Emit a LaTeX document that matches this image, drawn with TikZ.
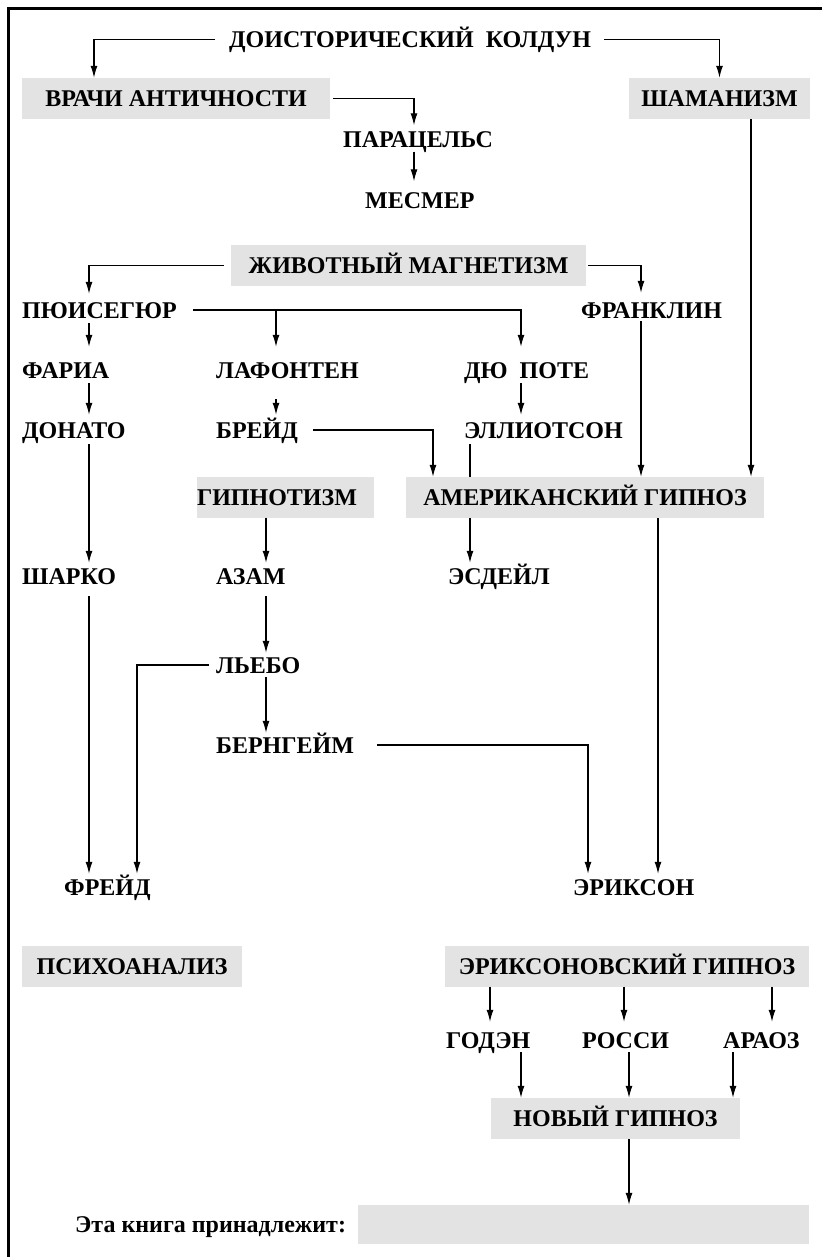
\documentclass[tikz,border=0pt]{standalone}
\usepackage{fontspec}
\setmainfont{Liberation Serif}
\usetikzlibrary{arrows.meta}
\definecolor{boxgray}{RGB}{227,227,227}
\newcommand\lblfont{\fontsize{24}{27}\selectfont\bfseries}

\begin{document}
\begin{tikzpicture}[x=1pt,y=-1pt,>={Latex[length=12pt,width=7pt]},
  lbl/.style={font=\lblfont,inner sep=0pt,text height=16pt,text depth=0pt,anchor=west},
  gbox/.style={fill=boxgray,font=\lblfont,inner sep=0pt,minimum height=41pt,text height=16pt,text depth=0pt},
  conn/.style={line width=1.2pt,->},
  plain/.style={line width=1.2pt}]
\useasboundingbox (0,0) rectangle (822,1257);
% frame
\draw[line width=3pt] (822,9) -- (8.5,9) -- (8.5,1257);

% columns of the vertical connectors
\coordinate (colA) at (89,0);
\coordinate (colVr) at (94,0);
\coordinate (colFd) at (137,0);
\coordinate (colAz) at (266,0);
\coordinate (colLaf) at (276,0);
\coordinate (colPar) at (414,0);
\coordinate (colAmA) at (433,0);
\coordinate (colEl) at (470,0);
\coordinate (colEg1) at (490,0);
\coordinate (colDu) at (521,0);
\coordinate (colErB) at (588,0);
\coordinate (colEg2) at (624,0);
\coordinate (colRo) at (629,0);
\coordinate (colFr) at (641,0);
\coordinate (colErA) at (658,0);
\coordinate (colAr) at (733,0);
\coordinate (colSh) at (751,0);
\coordinate (colEg3) at (772,0);

% grey boxes
\node[gbox,minimum width=308pt] (vrachi) at (176,98.5) {ВРАЧИ АНТИЧНОСТИ};
\node[gbox,minimum width=181pt] (shaman) at (719.5,98.5) {ШАМАНИЗМ};
\node[gbox,minimum width=355pt] (zhiv) at (408.5,265.5) {ЖИВОТНЫЙ МАГНЕТИЗМ};
\node[gbox,text width=177pt,align=left] (hypno) at (285.5,497) {ГИПНОТИЗМ};
\node[gbox,minimum width=358pt] (amer) at (585,497.5) {АМЕРИКАНСКИЙ ГИПНОЗ};
\node[gbox,minimum width=220pt] (psycho) at (132,966) {ПСИХОАНАЛИЗ};
\node[gbox,minimum width=364pt] (eriks) at (627,966) {ЭРИКСОНОВСКИЙ ГИПНОЗ};
\node[gbox,minimum width=249pt] (novy) at (615.5,1118.5) {НОВЫЙ ГИПНОЗ};
\node[gbox,minimum width=451pt,minimum height=39pt] (ownbox) at (583.5,1224.5) {};

% names
\node[lbl] (dok) at (229,39.5) {ДОИСТОРИЧЕСКИЙ\hspace{12pt}КОЛДУН};
\node[lbl] (parac) at (343,139.5) {ПАРАЦЕЛЬС};
\node[lbl] (mesmer) at (365,200.5) {МЕСМЕР};
\node[lbl] (puys) at (22,310) {ПЮИСЕГЮР};
\node[lbl] (frank) at (581,310) {ФРАНКЛИН};
\node[lbl] (faria) at (22,370) {ФАРИА};
\node[lbl] (lafont) at (216,370) {ЛАФОНТЕН};
\node[lbl] (dupot) at (464,370) {ДЮ\hspace{12pt}ПОТЕ};
\node[lbl] (donato) at (22,430) {ДОНАТО};
\node[lbl] (braid) at (216,430) {БРЕЙД};
\node[lbl] (elliot) at (464,430) {ЭЛЛИОТСОН};
\node[lbl] (charcot) at (22,576) {ШАРКО};
\node[lbl] (azam) at (216,576) {АЗАМ};
\node[lbl] (esdaile) at (448,576) {ЭСДЕЙЛ};
\node[lbl] (liebo) at (216,665) {ЛЬЕБО};
\node[lbl] (bernh) at (216,745) {БЕРНГЕЙМ};
\node[lbl] (freud) at (64,887) {ФРЕЙД};
\node[lbl] (erick) at (573,887) {ЭРИКСОН};
\node[lbl] (godin) at (446,1040) {ГОДЭН};
\node[lbl] (rossi) at (582,1040) {РОССИ};
\node[lbl] (araoz) at (723,1040) {АРАОЗ};
\node[lbl] (owner) at (75,1224.5) {Эта книга принадлежит:};

% connectors
\draw[conn] ([xshift=-14pt]dok.west) -| (vrachi.north -| colVr);
\draw[conn] ([xshift=13pt]dok.east) -| (shaman.north);
\draw[conn,shorten >=6pt] ([xshift=3pt]vrachi.east) -| (parac.north -| colPar);
\draw[conn,shorten <=4pt,shorten >=11pt] (parac.south -| colPar) -- (mesmer.north -| colPar);
\draw[conn] (shaman.south -| colSh) -- (amer.north -| colSh);
\draw[conn,shorten >=8pt] ([xshift=-7pt]zhiv.west) -| (puys.north -| colA);
\draw[conn,shorten >=9pt] ([xshift=2pt]zhiv.east) -| (frank.north -| colFr);
\draw[conn,shorten >=15pt] ([xshift=16pt]puys.east) -| (dupot.north -| colDu);
\draw[conn,shorten >=15pt] (puys.east -| colLaf) -- (lafont.north -| colLaf);
\draw[conn,shorten <=5pt,shorten >=15pt] (puys.south -| colA) -- (faria.north -| colA);
\draw[conn,shorten <=5pt,shorten >=7pt] (faria.south -| colA) -- (donato.north -| colA);
\draw[conn,shorten <=21pt,shorten >=7pt] (lafont.south -| colLaf) -- (braid.north -| colLaf);
\draw[conn,shorten <=5pt,shorten >=7pt] (dupot.south -| colDu) -- (elliot.north -| colDu);
\draw[conn] ([xshift=15pt]braid.east) -| (amer.north -| colAmA);
\draw[plain,shorten <=6pt] (elliot.south -| colEl) -- (amer.north -| colEl);
\draw[conn,shorten >=5pt] (amer.south -| colEl) -- (esdaile.north -| colEl);
\draw[conn,shorten <=3pt] (frank.south -| colFr) -- (amer.north -| colFr);
\draw[conn,shorten <=6pt,shorten >=5pt] (donato.south -| colA) -- (charcot.north -| colA);
\draw[conn,shorten >=5pt] (hypno.south -| colAz) -- (azam.north -| colAz);
\draw[conn,shorten <=12pt,shorten >=5pt] (charcot.south -| colA) -- (freud.north -| colA);
\draw[conn,shorten <=12pt,shorten >=4pt] (azam.south -| colAz) -- (liebo.north -| colAz);
\draw[conn,shorten >=5pt] ([xshift=-7pt]liebo.west) -| (freud.north -| colFd);
\draw[conn,shorten <=4pt,shorten >=4pt] (liebo.south -| colAz) -- (bernh.north -| colAz);
\draw[conn,shorten >=5pt] ([xshift=23pt]bernh.east) -| (erick.north -| colErB);
\draw[conn,shorten >=5pt] (amer.south -| colErA) -- (erick.north -| colErA);
\draw[conn,shorten >=10pt] (eriks.south -| colEg1) -- (godin.north -| colEg1);
\draw[conn,shorten >=10pt] (eriks.south -| colEg2) -- (rossi.north -| colEg2);
\draw[conn,shorten >=10pt] (eriks.south -| colEg3) -- (araoz.north -| colEg3);
\draw[conn,shorten <=4pt] (godin.south -| colDu) -- (novy.north -| colDu);
\draw[conn,shorten <=4pt] (rossi.south -| colRo) -- (novy.north -| colRo);
\draw[conn,shorten <=4pt] (araoz.south -| colAr) -- (novy.north -| colAr);
\draw[conn] (novy.south -| colRo) -- (ownbox.north -| colRo);
\end{tikzpicture}
\end{document}
